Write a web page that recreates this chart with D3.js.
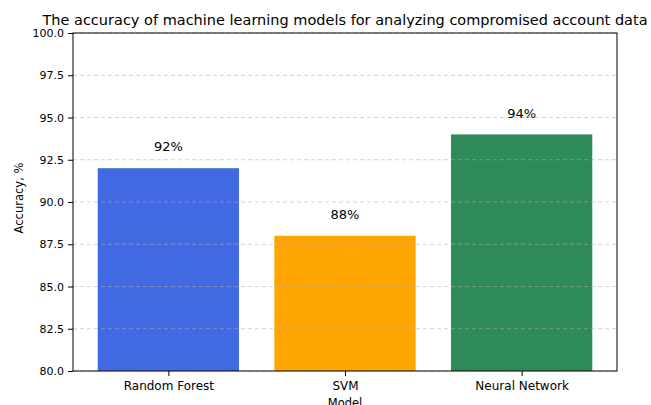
<!DOCTYPE html>
<meta charset="utf-8">
<style>
  body { margin: 0; background: #fff; }
  text { font-family: "DejaVu Sans", sans-serif; fill: #000; }
</style>
<body>
<div class="chart"></div>
<script src="https://d3js.org/d3.v7.min.js"></script>
<script>

// data
var models = ["Random Forest", "SVM", "Neural Network"];
var accuracy = [92, 88, 94];
var colors = ["#4169e1", "#ffa500", "#2e8b57"];
var yTicks = [80, 82.5, 85, 87.5, 90, 92.5, 95, 97.5, 100];

var margin = {top: 33, right: 34, bottom: 34, left: 73},
    width = 651 - margin.left - margin.right,
    height = 405 - margin.top - margin.bottom;

var svg = d3.select(".chart").append("svg")
    .attr("width", 651)
    .attr("height", 405)
  .append("g")
    .attr("transform", "translate(" + margin.left + "," + margin.top + ")");

// matplotlib style x range: bars of width 0.8, 5% margins
var x = d3.scaleLinear().domain([-0.54, 2.54]).range([0, width]);
var y = d3.scaleLinear().domain([80, 100]).range([height, 0]);

// bars
svg.selectAll(".bar")
    .data(accuracy)
  .enter().append("rect")
    .attr("class", "bar")
    .attr("x", function(d, i) { return x(i - 0.4); })
    .attr("width", x(0.8) - x(0))
    .attr("y", function(d) { return y(d); })
    .attr("height", function(d) { return height - y(d); })
    .style("fill", function(d, i) { return colors[i]; });

// dashed grid on top
svg.selectAll(".grid")
    .data(yTicks)
  .enter().append("line")
    .attr("x1", 0).attr("x2", width)
    .attr("y1", function(d) { return y(d); })
    .attr("y2", function(d) { return y(d); })
    .style("stroke", "#b0b0b0")
    .style("stroke-opacity", 0.7)
    .style("stroke-width", 0.8)
    .style("stroke-dasharray", "4,3");

// value labels
svg.selectAll(".val")
    .data(accuracy)
  .enter().append("text")
    .attr("x", function(d, i) { return x(i); })
    .attr("y", function(d) { return y(d + 1); })
    .style("text-anchor", "middle")
    .style("font-size", "13px")
    .text(function(d) { return d + "%"; });

// frame
svg.append("rect")
    .attr("width", width).attr("height", height)
    .style("fill", "none")
    .style("stroke", "#000")
    .style("stroke-width", 1);

// x axis
var xAxis = svg.append("g")
    .attr("transform", "translate(0," + height + ")")
    .call(d3.axisBottom(x).tickValues([0, 1, 2])
      .tickFormat(function(d) { return models[d]; })
      .tickSize(5).tickPadding(5.5));
xAxis.select(".domain").remove();
xAxis.selectAll("text").style("font-size", "12px").attr("fill", "#000");

// y axis
var yAxis = svg.append("g")
    .call(d3.axisLeft(y).tickValues(yTicks)
      .tickFormat(d3.format(".1f"))
      .tickSize(5).tickPadding(4));
yAxis.select(".domain").remove();
yAxis.selectAll("text").style("font-size", "11px").attr("fill", "#000");

// axis titles
svg.append("text")
    .attr("x", width / 2)
    .attr("y", height + 36)
    .style("text-anchor", "middle")
    .style("font-size", "11.5px")
    .text("Model");

svg.append("text")
    .attr("transform", "rotate(-90)")
    .attr("x", -height / 2 + 4)
    .attr("y", -50)
    .style("text-anchor", "middle")
    .style("font-size", "11.5px")
    .text("Accuracy, %");

// title
svg.append("text")
    .attr("x", width / 2)
    .attr("y", -8)
    .style("text-anchor", "middle")
    .style("font-size", "14.5px")
    .text("The accuracy of machine learning models for analyzing compromised account data");

</script>
</body>
